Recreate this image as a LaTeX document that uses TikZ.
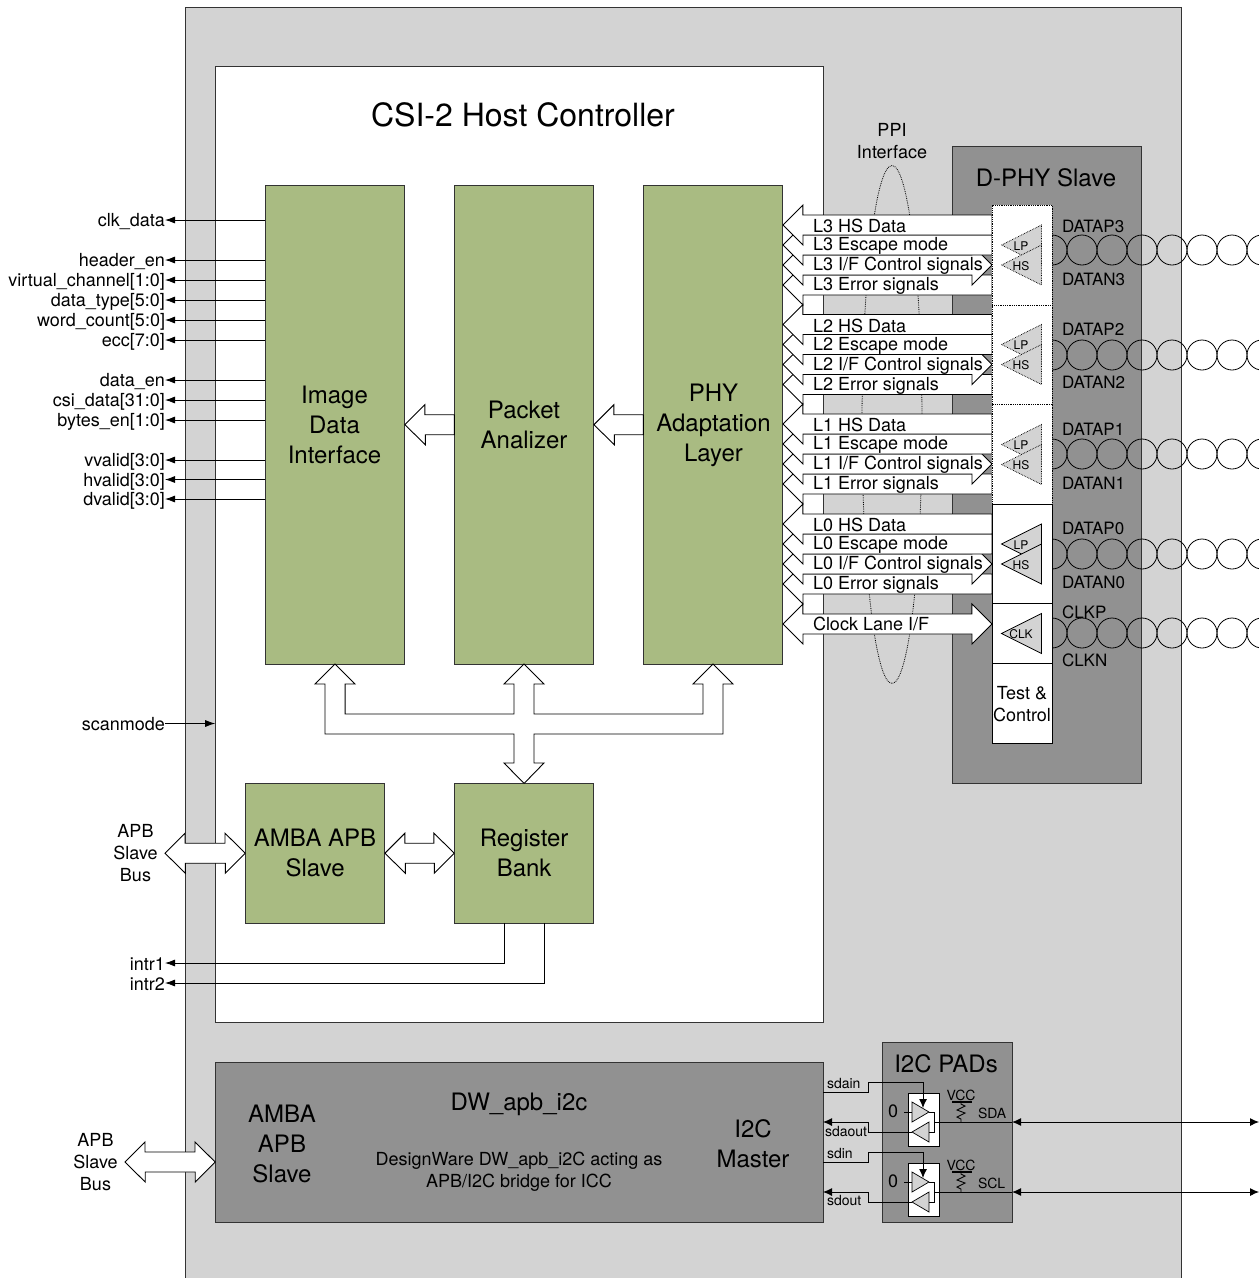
\documentclass[tikz,border=0pt]{standalone}
\usepackage{fontspec}
\setmainfont{TeX Gyre Heros}
\usetikzlibrary{arrows.meta}
\definecolor{lgray}{HTML}{D3D3D3}
\definecolor{dgray}{HTML}{919191}
\definecolor{oliveg}{HTML}{A9BB82}
\newcommand{\fs}[1]{\fontsize{#1}{#1}\selectfont}
\tikzset{
  x=1pt,y=-1pt,
  panel/.style={draw=black!80,line width=.9pt,inner sep=0pt,outer sep=0pt,anchor=center},
  greenbox/.style={panel,fill=oliveg,font=\fontsize{24}{30}\selectfont,align=center,minimum width=139.6pt},
  darkbox/.style={panel,fill=dgray},
  cellsolid/.style={draw=black,line width=.8pt,fill=white,minimum width=60pt,inner sep=0pt,outer sep=0pt},
  celldash/.style={draw=black,densely dotted,line width=.8pt,fill=white,minimum width=60pt,inner sep=0pt,outer sep=0pt},
  sig/.style={font=\fs{18},inner sep=0pt,outer sep=0pt,text height=13pt,text depth=0pt},
  small/.style={font=\fs{14},inner sep=0pt,outer sep=0pt,text height=10pt,text depth=0pt},
  tiny/.style={font=\fs{12},inner sep=0pt,outer sep=0pt,text height=8.6pt,text depth=0pt},
  sigdata/.style={font=\fs{17},inner sep=0pt,outer sep=0pt,anchor=west,text height=12.2pt,text depth=0pt},
  big/.style={font=\fontsize{24}{30}\selectfont,inner sep=0pt,outer sep=0pt,align=center},
  multi/.style={font=\fontsize{18}{22}\selectfont,inner sep=0pt,outer sep=0pt,align=center},
  wire/.style={draw=black,line width=.8pt,-{Latex[length=10pt,width=7pt]}},
  plainwire/.style={draw=black,line width=.9pt},
  barrow/.style={draw=black,fill=white,line width=.9pt,line join=miter},
  tri/.style={draw=black,fill=lgray,line width=.7pt,densely dotted},
  trisolid/.style={draw=black,fill=lgray,line width=.7pt},
  pair/.style={draw=black,line width=.8pt},
}
\newcommand{\LArrow}[1]{%
  \pgfmathsetmacro\ytopv{#1-10}\pgfmathsetmacro\ybotv{#1+10}%
  \draw[barrow] (phy.east |- 0,#1) -- ++(20,-20) -- ++(0,10) -- (colw |- 0,\ytopv) -- (colw |- 0,\ybotv) -- ++(-189,0) -- ++(0,10) -- cycle;}
\newcommand{\DArrow}[1]{%
  \draw[barrow] (phy.east |- 0,#1) -- ++(20,-20) -- ++(0,10) -- ++(169,0) -- ++(0,-10) -- (colw |- 0,#1) -- ++(-20,20) -- ++(0,-10) -- ++(-169,0) -- ++(0,10) -- cycle;}
\begin{document}
\begin{tikzpicture}
\clip (0,0) rectangle (1259,1278);
\useasboundingbox (0,0) rectangle (1259,1278);
% outer and controller panels
\path[fill=lgray,draw=black!80,line width=1pt] (185.5,7) rectangle (1181,1300);
\node[panel,fill=white,minimum width=607.8pt,minimum height=955.6pt] (ctrl) at (519.1,544.3) {};
\node[font=\fs{32},inner sep=0pt] (title) at (523,115) {CSI-2 Host Controller};
% PPI
\draw[black,line width=.8pt,densely dotted] (892,424.5) ellipse [x radius=30,y radius=259];
\node[multi] (ppi) at (892,141) {PPI\\Interface};
% D-PHY
\node[darkbox,minimum width=188.6pt,minimum height=636.6pt] (dphy) at (1046.7,464.7) {};
\node[font=\fs{24},inner sep=0pt] (dphyt) at (1046,178) {D-PHY Slave};
% twisted pairs
\foreach \cy in {250,355,454,554,633}{
  \foreach \cx in {1052,1082,1112,1142,1172,1202,1232,1262}{
    \draw[pair] (\cx,\cy) circle [radius=15];
  }
}
% green blocks
\node[greenbox,minimum height=478.6pt] (idi) at (335.1,424.7) {};
\node[greenbox,minimum height=478.6pt] (pa) at (524.1,424.7) {};
\node[greenbox,minimum height=478.6pt] (phy) at (713.1,424.7) {};
\node[big] (idit) at (334.5,425) {Image\\Data\\Interface};
\node[big] (pat) at (524,425.3) {Packet\\Analizer};
\node[big] (phyt) at (713.5,425.6) {PHY\\Adaptation\\Layer};
\node[greenbox,minimum height=139.6pt] (amba) at (315.1,853.2) {AMBA APB\\Slave};
\node[greenbox,minimum height=139.6pt] (reg) at (524.1,853.2) {Register\\Bank};
% block arrows between blocks
\draw[barrow] (idi.east) -- ++(20,-20) -- ++(0,10) -- (pa.west |- 0,414.7) -- (pa.west |- 0,434.7) -- ++(-29,0) -- ++(0,10) -- cycle;
\draw[barrow] (pa.east) -- ++(20,-20) -- ++(0,10) -- (phy.west |- 0,414.7) -- (phy.west |- 0,434.7) -- ++(-29,0) -- ++(0,10) -- cycle;
\draw[barrow] (amba.east) -- ++(20,-20) -- ++(0,10) -- ++(29,0) -- ++(0,-10) -- (reg.west) -- ++(-20,20) -- ++(0,-10) -- ++(-29,0) -- ++(0,10) -- cycle;
\draw[barrow] (idi.south) -- ++(20,20) -- ++(-10,0) -- ++(0,30) -- (514,714) -- (514,684) -- (504,684) -- (pa.south) -- (544,684) -- (534,684) -- (534,714) -- (703,714) -- (703,684) -- (693,684) -- (phy.south) -- (733,684) -- (723,684) -- (723,734) -- (534,734) -- (534,763) -- (544,763) -- (reg.north) -- (504,763) -- (514,763) -- (514,734) -- (325,734) -- (325,684) -- (315,684) -- cycle;
% left signals
\foreach \nm/\yy/\tx in {s1/220/clk\_data,s2/260/header\_en,s3/280/virtual\_channel[1:0],s4/300/data\_type[5:0],s5/320/word\_count[5:0],s6/340/ecc[7:0],s7/380/data\_en,s8/400/csi\_data[31:0],s9/420/bytes\_en[1:0],s10/460/vvalid[3:0],s11/479.5/hvalid[3:0],s12/499/dvalid[3:0]}{
  \node[sig,anchor=east] (\nm) at (165,\yy) {\tx};
  \draw[wire] (idi.west |- \nm.east) -- (\nm.east);
}
\node[sig,anchor=east] (scan) at (165,723.5) {scanmode};
\draw[wire] (scan.east) -- (ctrl.west |- scan.east);
% APB bus 1
\node[multi] (apb1) at (135.5,853.5) {APB\\Slave\\Bus};
\coordinate (apb1tip) at (165,853.2);
\draw[barrow] (apb1tip) -- ++(20,-20) -- ++(0,10) -- ++(40,0) -- ++(0,-10) -- (amba.west) -- ++(-20,20) -- ++(0,-10) -- ++(-40,0) -- ++(0,10) -- cycle;
% intr
\node[sig,anchor=east] (i1) at (165,963.5) {intr1};
\node[sig,anchor=east] (i2) at (165,984) {intr2};
\draw[wire] (504,923) -- (504,963) -- (i1.east |- 0,963);
\draw[wire] (544,923) -- (544,983) -- (i2.east |- 0,983);
% PHY lanes
\coordinate (colw) at (992,0);
\foreach \n/\yt in {3/215,2/314.5,1/414,0/514}{
  \pgfmathsetmacro\ye{\yt+70}\pgfmathsetmacro\yc{\yt+50}\pgfmathsetmacro\yb{\yt+30}\pgfmathsetmacro\ya{\yt+10}
  \LArrow{\ye}
  \DArrow{\yc}
  \LArrow{\yb}
  \LArrow{\ya}
  \pgfmathsetmacro\la{\yt+11}\pgfmathsetmacro\lb{\yt+29}\pgfmathsetmacro\lc{\yt+49}\pgfmathsetmacro\ld{\yt+69}
  \node[sig,anchor=west] (l\n a) at (813,\la) {L\n\ HS Data};
  \node[sig,anchor=west] (l\n b) at (813,\lb) {L\n\ Escape mode};
  \node[sig,anchor=west] (l\n c) at (813,\lc) {L\n\ I/F Control signals};
  \node[sig,anchor=west] (l\n d) at (813,\ld) {L\n\ Error signals};
}
\DArrow{624}
\node[sig,anchor=west] (clkif) at (813,624) {Clock Lane I/F};
% D-PHY column
\node[celldash,minimum height=100pt] (c3) at (1022,255) {};
\node[celldash,minimum height=99pt] (c2) at (1022,354.5) {};
\node[celldash,minimum height=100pt] (c1) at (1022,454) {};
\node[cellsolid,minimum height=99pt] (c0) at (1022,553.5) {};
\node[cellsolid,minimum height=60pt] (cclk) at (1022,633) {};
\node[cellsolid,minimum height=80pt] (ctest) at (1022,703) {};
\node[multi] (ctestt) at (1022,704.5) {Test \&\\Control};
% LP/HS triangles
\foreach \n/\yl/\st in {3/245/tri,2/344.5/tri,1/444.5/tri,0/544/trisolid}{
  \pgfmathsetmacro\yh{\yl+20}
  \pgfmathsetmacro\ylt{\yl+0.7}\pgfmathsetmacro\yht{\yh+0.7}
  \draw[\st] (1001.5,\yl) -- (1041.5,\yl-20) -- (1041.5,\yl+20) -- cycle;
  \draw[\st] (1001.5,\yh) -- (1041.5,\yh-20) -- (1041.5,\yh+20) -- cycle;
  \node[tiny] (lp\n) at (1021,\ylt) {LP};
  \node[tiny] (hs\n) at (1021,\yht) {HS};
}
\draw[trisolid] (1001.5,633.5) -- (1041.5,613.5) -- (1041.5,653.5) -- cycle;
\node[tiny] (clkb) at (1021,634) {CLK};
% data labels
\foreach \nm/\yy/\tx in {p3/226/DATAP3,n3/279/DATAN3,p2/329/DATAP2,n2/382/DATAN2,p1/429/DATAP1,n1/483/DATAN1,p0/528/DATAP0,n0/582/DATAN0,cp/612/CLKP,cn/660/CLKN}{
  \node[sigdata] (\nm) at (1062,\yy) {\tx};
}
% DW_apb_i2c
\node[darkbox,minimum width=607.8pt,minimum height=159.6pt] (dw) at (519.1,1142.2) {};
\node[big] (dwa) at (282,1144) {AMBA\\APB\\Slave};
\node[font=\fs{24},inner sep=0pt] (dwt) at (519,1104) {DW\_apb\_i2c};
\node[multi] (dwd) at (519,1172) {DesignWare DW\_apb\_i2C acting as\\APB/I2C bridge for ICC};
\node[big] (dwm) at (753,1143.8) {I2C\\Master};
\node[multi] (apb2) at (95.5,1162) {APB\\Slave\\Bus};
\coordinate (apb2tip) at (125,1162);
\draw[barrow] (apb2tip) -- ++(20,-20) -- ++(0,10) -- ++(50,0) -- ++(0,-10) -- (dw.west |- apb2tip) -- ++(-20,20) -- ++(0,-10) -- ++(-50,0) -- ++(0,10) -- cycle;
% I2C pads
\node[darkbox,minimum width=129.6pt,minimum height=179.6pt] (pads) at (947.3,1132.2) {};
\node[font=\fs{24},inner sep=0pt] (padst) at (946,1064) {I2C PADs};
\foreach \oo/\pa/\pb/\pc/\nmo/\nmi/\nmx in {0/a/b/c/sdain/sdaout/SDA,70/d/e/f/sdin/sdout/SCL}{
  \node[draw=black,line width=.8pt,fill=white,minimum width=31pt,minimum height=53pt,inner sep=0pt,outer sep=0pt] (box\pa) at (923.5,1119.5+\oo) {};
  \draw[trisolid] (912,1102+\oo) -- (929,1112+\oo) -- (912,1122+\oo) -- cycle;
  \draw[trisolid] (929,1122+\oo) -- (912,1132+\oo) -- (929,1142+\oo) -- cycle;
  \node[font=\fs{18},inner sep=0pt] (zero\pa) at (893,1111.5+\oo) {0};
  \draw[plainwire] (904,1112+\oo) -- (912,1112+\oo);
  \draw[plainwire] (929,1112+\oo) -- (934,1112+\oo) -- (934,1132+\oo) -- (929,1132+\oo);
  \node[small] (vcc\pa) at (961,1095.5+\oo) {VCC};
  \draw[plainwire,line width=1.2pt] (952,1102+\oo) -- (972,1102+\oo);
  \draw[plainwire] (961,1102+\oo) -- (961,1104+\oo) -- (965,1106+\oo) -- (957,1110+\oo) -- (965,1113+\oo) -- (957,1117+\oo) -- (961,1119+\oo) -- (961,1122+\oo);
  \node[small,anchor=west] (\nmx) at (978,1113+\oo) {\nmx};
  \draw[plainwire] (934,1122+\oo) -- (1012,1122+\oo);
  \coordinate (ext\pa) at (1259,1122+\oo);
  \draw[draw=black,line width=.9pt,{Latex[length=9pt,width=8pt]}-{Latex[length=9pt,width=8pt]}] (pads.east |- ext\pa) -- (ext\pa);
  \draw[plainwire,-{Latex[length=9pt,width=8pt]}] (dw.east |- 0,1092+\oo) -- (868,1092+\oo) -- (868,1082+\oo) -- (923,1082+\oo) -- (923,1108+\oo);
  \draw[plainwire,-{Latex[length=9pt,width=8pt]}] (912,1132+\oo) -- (868,1132+\oo) -- (868,1122+\oo) -- (dw.east |- 0,1122+\oo);
}
\node[small,anchor=west] (sdain) at (827,1083.5) {sdain};
\node[small,anchor=west] (sdaout) at (825,1131.5) {sdaout};
\node[small,anchor=west] (sdin) at (827,1153.5) {sdin};
\node[small,anchor=west] (sdout) at (827,1200) {sdout};
\end{tikzpicture}
\end{document}
